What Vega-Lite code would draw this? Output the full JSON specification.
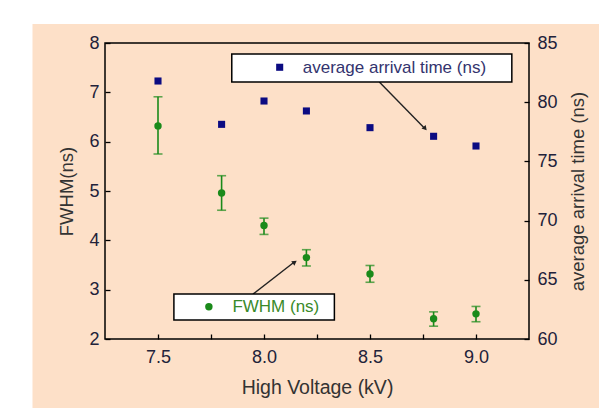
{
  "$schema": "https://vega.github.io/schema/vega-lite/v6.json",
  "width": 424,
  "height": 296,
  "autosize": {"type": "none"},
  "padding": {"left": 105, "top": 43, "right": 70, "bottom": 69},
  "background": "white",
  "config": {
    "view": {"stroke": null},
    "font": "Liberation Sans",
    "axis": {
      "grid": false,
      "domain": false,
      "tickColor": "black",
      "tickWidth": 1.3,
      "tickSize": -5,
      "labelFont": "Liberation Sans",
      "labelFontSize": 18,
      "labelColor": "#22223a",
      "titleFont": "Liberation Sans",
      "titleFontSize": 18.5,
      "titleFontWeight": "normal",
      "titleColor": "#333333"
    }
  },
  "datasets": {
    "fwhm": [
      {"hv": 7.5, "fwhm": 6.32, "lo": 5.75, "hi": 6.91},
      {"hv": 7.8, "fwhm": 4.96, "lo": 4.61, "hi": 5.31},
      {"hv": 8.0, "fwhm": 4.30, "lo": 4.12, "hi": 4.45},
      {"hv": 8.2, "fwhm": 3.65, "lo": 3.48, "hi": 3.81},
      {"hv": 8.5, "fwhm": 3.32, "lo": 3.15, "hi": 3.49},
      {"hv": 8.8, "fwhm": 2.41, "lo": 2.26, "hi": 2.55},
      {"hv": 9.0, "fwhm": 2.51, "lo": 2.35, "hi": 2.66}
    ],
    "arrival": [
      {"hv": 7.5, "t": 81.79},
      {"hv": 7.8, "t": 78.13},
      {"hv": 8.0, "t": 80.10},
      {"hv": 8.2, "t": 79.26},
      {"hv": 8.5, "t": 77.85},
      {"hv": 8.8, "t": 77.12},
      {"hv": 9.0, "t": 76.30}
    ],
    "one": [{"k": 1}]
  },
  "resolve": {"scale": {"y": "independent"}},
  "layer": [
    {
      "layer": [
        {
          "data": {"name": "one"},
          "mark": {"type": "rect", "clip": false, "fill": "#fde0c8"},
          "encoding": {
            "x": {"datum": 6.908, "type": "quantitative", "scale": {"domain": [7.25, 9.25], "nice": false, "zero": false}},
            "x2": {"datum": 9.8},
            "y": {"datum": 8.385, "type": "quantitative", "scale": {"domain": [2, 8], "nice": false, "zero": false}},
            "y2": {"datum": 0.2}
          }
        },
        {
          "data": {"name": "fwhm"},
          "mark": {"type": "rule", "color": "#1a8a1a", "strokeWidth": 1.6},
          "encoding": {
            "x": {
              "field": "hv", "type": "quantitative",
              "scale": {"domain": [7.25, 9.25], "nice": false, "zero": false},
              "axis": {
                "zindex": 2,
                "title": "High Voltage (kV)",
                "titleFontSize": 19.5,
                "values": [7.5, 7.75, 8, 8.25, 8.5, 8.75, 9],
                "labelExpr": "datum.value % 0.5 == 0 ? format(datum.value, '.1f') : ''",
                "labelPadding": 14,
                "titleX": 212,
                "titleY": 48,
                "titleAlign": "center",
                "titleBaseline": "middle"
              }
            },
            "y": {
              "field": "lo", "type": "quantitative",
              "scale": {"domain": [2, 8], "nice": false, "zero": false},
              "axis": {
                "zindex": 2,
                "title": "FWHM(ns)",
                "values": [2, 2.5, 3, 3.5, 4, 4.5, 5, 5.5, 6, 6.5, 7, 7.5, 8],
                "labelExpr": "datum.value % 1 == 0 ? datum.label : ''",
                "labelPadding": 11,
                "titleX": -39,
                "titleY": 148,
                "titleAlign": "center",
                "titleBaseline": "middle",
                "titleAngle": -90
              }
            },
            "y2": {"field": "hi"}
          }
        },
        {
          "data": {"name": "fwhm"},
          "mark": {"type": "tick", "orient": "horizontal", "color": "#1a8a1a", "size": 9, "thickness": 1.6},
          "encoding": {
            "x": {"field": "hv", "type": "quantitative"},
            "y": {"field": "lo", "type": "quantitative"}
          }
        },
        {
          "data": {"name": "fwhm"},
          "mark": {"type": "tick", "orient": "horizontal", "color": "#1a8a1a", "size": 9, "thickness": 1.6},
          "encoding": {
            "x": {"field": "hv", "type": "quantitative"},
            "y": {"field": "hi", "type": "quantitative"}
          }
        },
        {
          "data": {"name": "fwhm"},
          "mark": {"type": "point", "shape": "circle", "filled": true, "opacity": 1, "color": "#1a8a1a", "size": 55},
          "encoding": {
            "x": {"field": "hv", "type": "quantitative"},
            "y": {"field": "fwhm", "type": "quantitative"}
          }
        },
        {
          "data": {"name": "one"},
          "mark": {"type": "rule", "color": "#222222", "strokeWidth": 1.4},
          "encoding": {
            "x": {"datum": 7.948, "type": "quantitative"},
            "y": {"datum": 2.91, "type": "quantitative"},
            "x2": {"datum": 8.14},
            "y2": {"datum": 3.55}
          }
        },
        {
          "data": {"name": "one"},
          "mark": {"type": "point", "shape": "triangle-up", "filled": true, "opacity": 1, "color": "#222222", "size": 30, "angle": 54},
          "encoding": {
            "x": {"datum": 8.145, "type": "quantitative"},
            "y": {"datum": 3.56, "type": "quantitative"}
          }
        },
        {
          "data": {"name": "one"},
          "mark": {"type": "rect", "fill": "white", "stroke": "black", "strokeWidth": 1.5},
          "encoding": {
            "x": {"datum": 7.575, "type": "quantitative"},
            "x2": {"datum": 8.332},
            "y": {"datum": 2.385, "type": "quantitative"},
            "y2": {"datum": 2.91}
          }
        },
        {
          "data": {"name": "one"},
          "mark": {"type": "point", "shape": "circle", "filled": true, "opacity": 1, "color": "#1a8a1a", "size": 55},
          "encoding": {
            "x": {"datum": 7.74, "type": "quantitative"},
            "y": {"datum": 2.655, "type": "quantitative"}
          }
        },
        {
          "data": {"name": "one"},
          "mark": {"type": "text", "text": "FWHM (ns)", "align": "left", "baseline": "middle", "fontSize": 17, "color": "#3a8a2a", "font": "Liberation Sans"},
          "encoding": {
            "x": {"datum": 7.851, "type": "quantitative"},
            "y": {"datum": 2.65, "type": "quantitative"}
          }
        },
        {
          "data": {"name": "one"},
          "mark": {"type": "rect", "fill": null, "fillOpacity": 0, "stroke": "black", "strokeWidth": 1.5},
          "encoding": {
            "x": {"datum": 7.25, "type": "quantitative"},
            "x2": {"datum": 9.25},
            "y": {"datum": 2, "type": "quantitative"},
            "y2": {"datum": 8}
          }
        }
      ]
    },
    {
      "layer": [
        {
          "data": {"name": "arrival"},
          "mark": {"type": "point", "shape": "square", "filled": true, "opacity": 1, "color": "#0b0b82", "size": 50},
          "encoding": {
            "x": {"field": "hv", "type": "quantitative"},
            "y": {
              "field": "t", "type": "quantitative",
              "scale": {"domain": [60, 85], "nice": false, "zero": false},
              "axis": {
                "zindex": 2,
                "orient": "right",
                "title": "average arrival time (ns)",
                "values": [60, 62.5, 65, 67.5, 70, 72.5, 75, 77.5, 80, 82.5, 85],
                "labelExpr": "datum.value % 5 == 0 ? datum.label : ''",
                "labelPadding": 13,
                "titleX": 48,
                "titleY": 148,
                "titleAlign": "center",
                "titleBaseline": "middle",
                "titleAngle": -90
              }
            }
          }
        },
        {
          "data": {"name": "one"},
          "mark": {"type": "rule", "color": "#222222", "strokeWidth": 1.4},
          "encoding": {
            "x": {"datum": 8.544, "type": "quantitative"},
            "y": {"datum": 81.71, "type": "quantitative"},
            "x2": {"datum": 8.755},
            "y2": {"datum": 77.85}
          }
        },
        {
          "data": {"name": "one"},
          "mark": {"type": "point", "shape": "triangle-up", "filled": true, "opacity": 1, "color": "#222222", "size": 30, "angle": 140},
          "encoding": {
            "x": {"datum": 8.76, "type": "quantitative"},
            "y": {"datum": 77.78, "type": "quantitative"}
          }
        },
        {
          "data": {"name": "one"},
          "mark": {"type": "rect", "fill": "white", "stroke": "black", "strokeWidth": 1.5},
          "encoding": {
            "x": {"datum": 7.848, "type": "quantitative"},
            "x2": {"datum": 9.169},
            "y": {"datum": 81.71, "type": "quantitative"},
            "y2": {"datum": 84.07}
          }
        },
        {
          "data": {"name": "one"},
          "mark": {"type": "point", "shape": "square", "filled": true, "opacity": 1, "color": "#0b0b82", "size": 50},
          "encoding": {
            "x": {"datum": 8.074, "type": "quantitative"},
            "y": {"datum": 82.95, "type": "quantitative"}
          }
        },
        {
          "data": {"name": "one"},
          "mark": {"type": "text", "text": "average arrival time (ns)", "align": "left", "baseline": "middle", "fontSize": 17, "color": "#33336e", "font": "Liberation Sans"},
          "encoding": {
            "x": {"datum": 8.183, "type": "quantitative"},
            "y": {"datum": 82.9, "type": "quantitative"}
          }
        }
      ]
    }
  ]
}
